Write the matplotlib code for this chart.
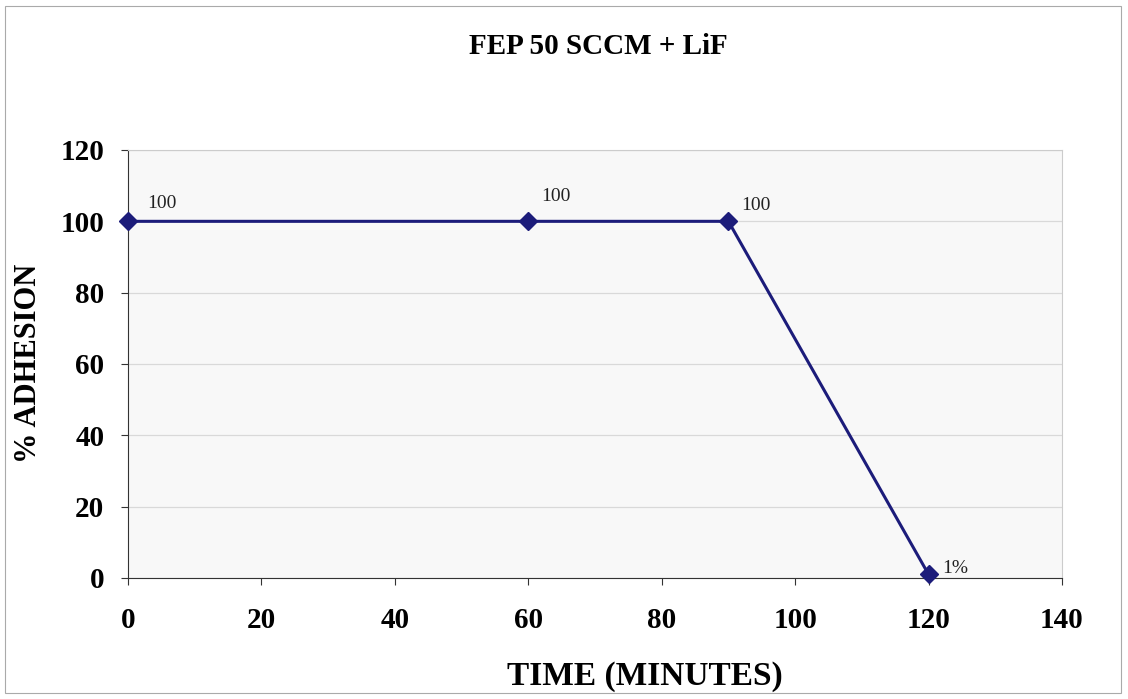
import matplotlib.pyplot as plt
from matplotlib.patches import Rectangle

time_min = [0, 60, 90, 120]
adhesion = [100, 100, 100, 1]
point_labels = ["100", "100", "100", "1%"]
label_offsets = [(14, 7), (9, 12), (9, 5), (10, -2)]

plt.rcParams['font.family'] = ['Liberation Serif', 'DejaVu Serif']

W, H = 1128, 699
fig = plt.figure(figsize=(W / 100, H / 100), dpi=100)
ax = fig.add_axes([128 / W, 1 - 578 / H, (1062 - 128) / W, (578 - 150) / H])
ax.set_facecolor('#f8f8f8')

ax.plot(time_min, adhesion, color='#1c1c7a', linewidth=2.2,
        marker='D', markersize=9.5, markerfacecolor='#1c1c7a', zorder=3,
        clip_on=False)

for x, y, lab, off in zip(time_min, adhesion, point_labels, label_offsets):
    ax.annotate(lab, (x, y), xytext=off, textcoords='offset points',
                fontsize=14, color='#222222', ha='left', va='bottom')

ax.set_xlim(0, 140)
ax.set_ylim(0, 120)
ax.set_xticks(range(0, 141, 20))
ax.set_yticks(range(0, 121, 20))
ax.grid(axis='y', color='#d9d9d9', linewidth=0.9)
ax.set_axisbelow(True)

for s in ['top', 'right']:
    ax.spines[s].set_color('#cccccc')
for s in ['left', 'bottom']:
    ax.spines[s].set_color('#333333')

ax.tick_params(axis='both', labelsize=21, length=5, color='#333333')
for t in ax.get_xticklabels() + ax.get_yticklabels():
    t.set_fontweight('bold')
ax.tick_params(axis='x', pad=16)
ax.tick_params(axis='y', pad=12)

fig.text(598 / W, 1 - 46 / H, 'FEP 50 SCCM + LiF', fontsize=21,
         fontweight='bold', ha='center', va='center')
fig.text(645 / W, 1 - 676 / H, 'TIME (MINUTES)', fontsize=24,
         fontweight='bold', ha='center', va='center')
fig.text(29 / W, 1 - 363 / H, '% ADHESION', fontsize=22, fontweight='bold',
         ha='center', va='center', rotation=90)

fig.patches.append(Rectangle((0.004, 0.008), 0.99, 0.984, transform=fig.transFigure,
                             fill=False, edgecolor='#aaaaaa', linewidth=0.8))

fig.savefig('out.png', dpi=100)
